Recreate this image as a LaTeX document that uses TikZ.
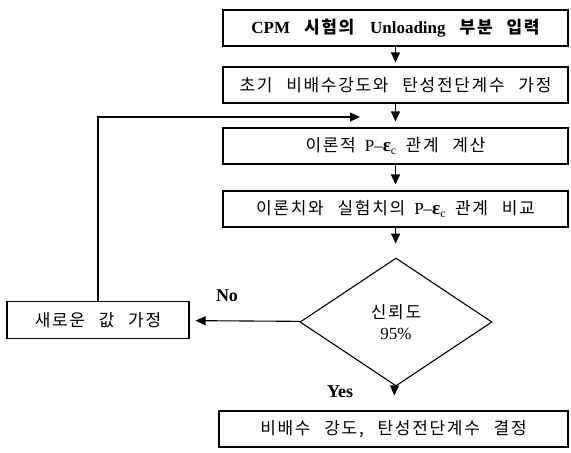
\documentclass[tikz,border=0pt]{standalone}
\usepackage{fontspec}
\setmainfont{Liberation Serif}
\newfontfamily\kr[LetterSpace=10,WordSpace=2.5]{Noto Sans CJK KR}
\newcommand{\pec}{P–{\fontsize{19}{19}\selectfont\bfseries ε}\textsubscript{c}}
\newcommand{\gap}{\hspace{9pt}}
\newcommand{\wgap}{\hspace{14pt}}
\usetikzlibrary{arrows.meta,shapes.geometric}
\begin{document}
\begin{tikzpicture}[x=1pt,y=-1pt,
  box/.style={draw, line width=1.1pt, inner sep=0pt, minimum height=36pt, font=\fontsize{17}{19}\selectfont},
  wide/.style={box, minimum width=345pt},
  arr/.style={-{Triangle[length=10pt,width=9pt]}, line width=1.1pt},
  lbl/.style={font=\fontsize{18}{20}\selectfont\bfseries, inner sep=0pt}]
\useasboundingbox (0,0) rectangle (571,453);
\node[wide] (b1) at (395.5,28) {\textbf{CPM}\wgap{\kr\bfseries 시험의}\wgap\textbf{Unloading}\wgap{\kr\bfseries 부분}\wgap{\kr\bfseries 입력}};
\node[wide] (b2) at (395.5,85) {\kr 초기 비배수강도와 탄성전단계수 가정};
\node[wide] (b3) at (395.5,146) {{\kr 이론적}\gap\pec\gap{\kr 관계 계산}};
\node[wide] (b4) at (395.5,209) {{\kr 이론치와 실험치의}\gap\pec\gap{\kr 관계 비교}};
\node[draw, line width=1.1pt, diamond, minimum width=192pt, minimum height=128pt, inner sep=0pt, align=center, font=\fontsize{17}{21}\selectfont] (d) at (396,322) {{\kr 신뢰도}\\95\%};
\node[box, minimum width=182pt, minimum height=37pt] (b5) at (98,320) {\kr 새로운 값 가정};
\node[box, minimum width=349pt] (b6) at (393.5,429) {\kr 비배수 강도, 탄성전단계수 결정};
\coordinate (loopend) at (360,117);
\draw[arr, shorten >=4pt] (b1) -- (b2);
\draw[arr, shorten >=6pt] (b2) -- (b3);
\draw[arr, shorten >=6pt] (b3) -- (b4);
\draw[arr, shorten >=14pt] (b4) -- (d);
\draw[arr, shorten >=6pt] (d) -- (b5);
\draw[arr, shorten >=15pt] (d) -- (b6);
\draw[arr] (b5.north) |- (loopend);
\node[lbl] (no) at (227,296) {No};
\node[lbl] (yes) at (340,392) {Yes};
\end{tikzpicture}
\end{document}
